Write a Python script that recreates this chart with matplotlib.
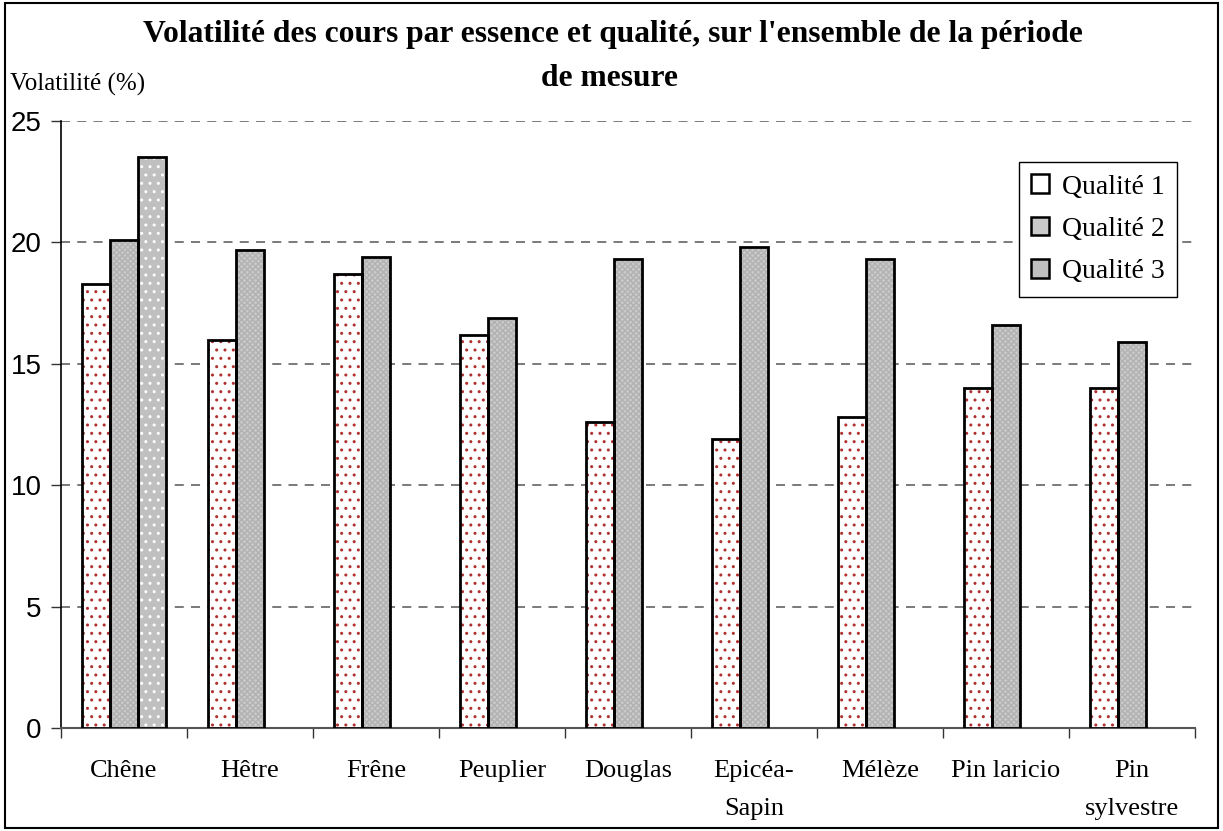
import numpy as np
import matplotlib
matplotlib.use('Agg')
import matplotlib.pyplot as plt
from matplotlib.patches import Rectangle, Patch
from matplotlib.legend_handler import HandlerTuple

# données
essences = ['Chêne', 'Hêtre', 'Frêne', 'Peuplier', 'Douglas', 'Epicéa-\nSapin',
            'Mélèze', 'Pin laricio', 'Pin\nsylvestre']
qualite1 = [18.3, 16.0, 18.7, 16.2, 12.6, 11.9, 12.8, 14.0, 14.0]
qualite2 = [20.1, 19.7, 19.4, 16.9, 19.3, 19.8, 19.3, 16.6, 15.9]
qualite3 = [23.5, np.nan, np.nan, np.nan, np.nan, np.nan, np.nan, np.nan, np.nan]
yticks = [0, 5, 10, 15, 20, 25]

plt.rcParams['hatch.linewidth'] = 1.0

fig = plt.figure(figsize=(12.23, 8.31), dpi=100)
ax = fig.add_axes([61/1223, 103/831, 1134/1223, 607/831])

x = np.arange(len(essences))
w = 0.222

# styles des trois qualités (fond + trame)
st1 = dict(color='white', edgecolor='#b03030', hatch='..', linewidth=0)
st2 = dict(color='#cacaca', edgecolor='#b2b2b2', hatch='xxxxxx', linewidth=0)
st3 = dict(color='#c0c0c0', edgecolor='white', hatch='..', linewidth=0)

ax.bar(x - w, qualite1, w, zorder=3, **st1)
ax.bar(x - w, qualite1, w, fill=False, edgecolor='black', linewidth=2, zorder=4)
ax.bar(x, qualite2, w, zorder=3, **st2)
ax.bar(x, qualite2, w, fill=False, edgecolor='black', linewidth=2, zorder=4)
ax.bar(x + w, qualite3, w, zorder=3, **st3)
ax.bar(x + w, qualite3, w, fill=False, edgecolor='black', linewidth=2, zorder=4)

ax.set_xlim(-0.5, len(essences) - 0.5)
ax.set_ylim(0, 25)
ax.set_yticks(yticks)
ax.set_yticklabels([str(v) for v in yticks], fontfamily='Liberation Sans', fontsize=20)
ax.tick_params(axis='y', direction='out', length=7, width=1, pad=7, color='#333333')

ax.set_xticks(x)
ax.set_xticklabels(essences, fontfamily='Liberation Serif', fontsize=19, linespacing=1.95, va='top')
ax.set_xticks(np.arange(len(essences) + 1) - 0.5, minor=True)
ax.tick_params(axis='x', which='major', length=0, pad=23)
ax.tick_params(axis='x', which='minor', direction='out', length=7, width=1, color='#333333')

ax.yaxis.grid(True, linestyle=(0, (5, 4)), color='#707070', linewidth=1.3, zorder=0)
ax.set_axisbelow(True)
for s in ['top', 'right']:
    ax.spines[s].set_visible(False)
ax.spines['left'].set_color('black')
ax.spines['left'].set_linewidth(1.2)
ax.spines['bottom'].set_color('#555555')
ax.spines['bottom'].set_linewidth(1.5)

# légende
def poignee(st):
    return (Patch(**st), Patch(fill=False, edgecolor='black', linewidth=1.8))

leg = ax.legend([poignee(st1), poignee(st2), poignee(st3)], ['Qualité 1', 'Qualité 2', 'Qualité 3'],
                handler_map={tuple: HandlerTuple(ndivide=1)},
                loc='upper right', bbox_to_anchor=(1116/1134, 566/607),
                prop={'family': 'Liberation Serif', 'size': 20},
                frameon=True, fancybox=False, edgecolor='black', framealpha=1,
                handlelength=0.65, handleheight=0.65, handletextpad=0.45,
                labelspacing=0.62, borderpad=0.45, borderaxespad=0)
leg.get_frame().set_linewidth(1.0)
leg.set_zorder(5)

fig.text(0.501, 0.958, "Volatilité des cours par essence et qualité, sur l'ensemble de la période",
         ha='center', va='center', fontfamily='Liberation Serif', fontweight='bold', fontsize=22.7)
fig.text(0.498, 0.906, "de mesure", ha='center', va='center',
         fontfamily='Liberation Serif', fontweight='bold', fontsize=22.7)
fig.text(10/1223, 1 - 84/831, "Volatilité (%)", ha='left', va='center',
         fontfamily='Liberation Serif', fontsize=18)

fig.patches.append(Rectangle((5/1223, 3/831), 1213/1223, 825/831, transform=fig.transFigure,
                             fill=False, edgecolor='black', linewidth=1.5))

fig.savefig('out.png', dpi=100)
